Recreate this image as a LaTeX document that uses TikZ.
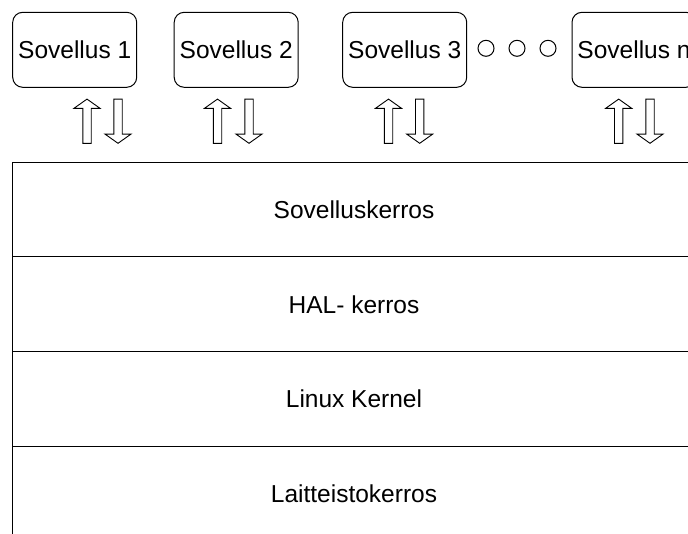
\documentclass[tikz,border=0pt]{standalone}
\usepackage{fontspec}
\setmainfont{Liberation Sans}
\begin{document}
\begin{tikzpicture}[x=1pt,y=-1pt, line width=1pt,
  app/.style={draw, rounded corners=10pt, minimum width=124pt, minimum height=75pt, inner sep=0pt, font=\fontsize{24.5}{29}\selectfont},
  layer/.style={draw, minimum width=684pt, minimum height=94.8pt, inner sep=0pt, font=\fontsize{24.5}{29}\selectfont},
  dot/.style={draw, circle, minimum size=16pt, inner sep=0pt},
  hollow/.style={draw, fill=white, line width=0.9pt, line join=miter},
  upar/.pic={\draw[hollow] (-4.2,22.1) -- (-4.2,-12.9) -- (-13,-12.9) -- (0,-22.1) -- (13,-12.9) -- (4.2,-12.9) -- (4.2,22.1) -- cycle;},
  downar/.pic={\draw[hollow] (-4.2,-22.1) -- (-4.2,12.9) -- (-13,12.9) -- (0,22.1) -- (13,12.9) -- (4.2,12.9) -- (4.2,-22.1) -- cycle;}]
\clip (0,0) rectangle (688,533);
% applications
\node[app] (s1) at (74.7,49.8) {Sovellus 1};
\node[app] (s2) at (236.2,49.8) {Sovellus 2};
\node[app] (s3) at (404.7,49.8) {Sovellus 3};
\node[app] (sn) at (634,49.8) {Sovellus n};
% dots
\node[dot] (d1) at (486,48.3) {};
\node[dot] (d2) at (517,48.3) {};
\node[dot] (d3) at (548,48.3) {};
% arrows
\pic (u1) at (87,121.2) {upar};
\pic (w1) at (118,121.2) {downar};
\pic (u2) at (217.5,121.2) {upar};
\pic (w2) at (249,121.2) {downar};
\pic (u3) at (388.5,121.2) {upar};
\pic (w3) at (419.7,121.2) {downar};
\pic (un) at (618.7,121.2) {upar};
\pic (wn) at (650,121.2) {downar};
% layers
\node[layer] (l1) at (354,209.5) {Sovelluskerros};
\node[layer] (l2) at (354,304.3) {HAL- kerros};
\node[layer] (l3) at (354,399.1) {Linux Kernel};
\node[layer] (l4) at (354,493.9) {Laitteistokerros};
\end{tikzpicture}
\end{document}
